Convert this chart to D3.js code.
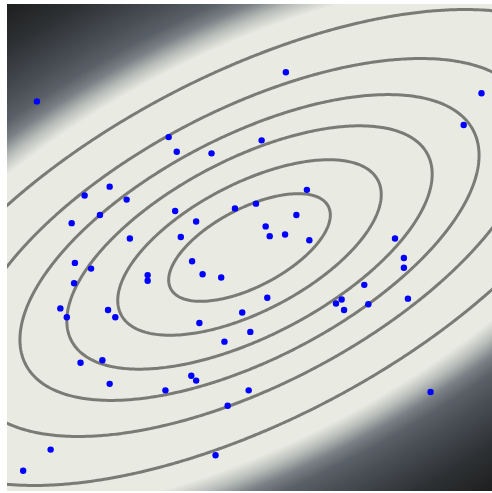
<!DOCTYPE html>
<html lang="en">
<head>
<meta charset="UTF-8">
<title>Gaussian contours</title>
<script src="https://cdn.jsdelivr.net/npm/d3@7"></script>
<style>
  body, html { margin: 0; background: #fff; }
  #chart { position: relative; width: 492px; height: 493px; }
  #chart canvas, #chart svg { position: absolute; left: 0; top: 0; }
</style>
</head>
<body>
<div id="chart"></div>
<script>
// data space of the picture
const xDomain = [-3, 3];
const yDomain = [-3, 3];
// covariance of the fitted gaussian: sxx, sxy, syy
const covariance = [1.0, 0.4, 0.44];
// contour levels, as mahalanobis distance
const contourLevels = [1, 1.63, 2.26, 2.84, 3.51, 4.42];
// background shading by mahalanobis distance
const shadeStops = [4.95, 5.3, 5.65, 6.0, 6.5, 7.5, 8.5];
const shadeColors = ["#e9eae2", "#b9bdba", "#7a8085", "#5a6067", "#494e55", "#2e3134", "#1d1e1e"];
// sample points
const dotX = [-2.63, 0.45, 2.87, 2.65, -1.00, 0.15, -0.90, -0.47, -1.73, -2.04, 0.71, -1.52, -1.85, -2.20,
  -0.92, -0.18, 0.08, 0.58, -0.66, 0.20, 0.25, 0.44, 0.74, -0.85, -1.48, 1.80, 1.91, 1.91, -0.71, -2.16,
  -1.96, -0.58, -0.35, -1.26, -1.26, -2.17, 1.42, 0.22, 1.96, 1.07, 1.14, 1.47, 1.17, -2.34, -2.26, -1.75,
  -1.66, -0.09, -0.62, 0.01, -0.31, -1.82, -2.09, -0.72, -0.66, -1.73, -1.04, -0.01, -0.27, 2.24, -2.46,
  -0.42, -2.80];
const dotY = [1.80, 2.16, 1.90, 1.51, 1.36, 1.32, 1.18, 1.16, 0.75, 0.64, 0.71, 0.59, 0.40, 0.30,
  0.45, 0.48, 0.54, 0.40, 0.32, 0.26, 0.14, 0.16, 0.09, 0.13, 0.11, 0.11, -0.13, -0.25, -0.17, -0.19,
  -0.26, -0.33, -0.37, -0.34, -0.41, -0.44, -0.46, -0.62, -0.63, -0.69, -0.64, -0.70, -0.77, -0.75, -0.86, -0.77,
  -0.86, -0.80, -0.93, -1.04, -1.16, -1.39, -1.42, -1.58, -1.64, -1.68, -1.76, -1.76, -1.95, -1.78, -2.49,
  -2.56, -2.75];

const W = 492, H = 493;
const pLeft = 7, pTop = 4, pRight = 492, pBottom = 491;
const pw = pRight - pLeft, ph = pBottom - pTop;

const x = d3.scaleLinear().domain(xDomain).range([pLeft, pRight]);
const y = d3.scaleLinear().domain(yDomain).range([pBottom, pTop]);

const [sxx, sxy, syy] = covariance;
const det = sxx * syy - sxy * sxy;
function mahal(px, py) {
  const dx = x.invert(px), dy = y.invert(py);
  return Math.sqrt((syy * dx * dx - 2 * sxy * dx * dy + sxx * dy * dy) / det);
}

const shade = d3.scaleLinear().domain(shadeStops).range(shadeColors).clamp(true);

// raster background
const canvas = d3.select("#chart").append("canvas")
  .attr("width", pw).attr("height", ph)
  .style("left", pLeft + "px").style("top", pTop + "px");
const ctx = canvas.node().getContext("2d");
const img = ctx.createImageData(pw, ph);
for (let j = 0; j < ph; j++) {
  for (let i = 0; i < pw; i++) {
    const c = d3.rgb(shade(mahal(pLeft + i + 0.5, pTop + j + 0.5)));
    const k = 4 * (j * pw + i);
    img.data[k] = c.r; img.data[k + 1] = c.g; img.data[k + 2] = c.b; img.data[k + 3] = 255;
  }
}
ctx.putImageData(img, 0, 0);

const svg = d3.select("#chart").append("svg").attr("width", W).attr("height", H);

svg.append("clipPath").attr("id", "plot")
  .append("rect").attr("x", pLeft).attr("y", pTop)
  .attr("width", pw).attr("height", ph);

// contour grid, a bit wider than the plot so edge rings fall outside the clip
const step = 2, pad = 12;
const gx0 = pLeft - pad, gy0 = pTop - pad;
const nx = Math.ceil((pw + 2 * pad) / step);
const ny = Math.ceil((ph + 2 * pad) / step);
const values = new Array(nx * ny);
for (let j = 0; j < ny; j++)
  for (let i = 0; i < nx; i++)
    values[j * nx + i] = -mahal(gx0 + (i + 0.5) * step, gy0 + (j + 0.5) * step);

const contours = d3.contours().size([nx, ny])
  .thresholds(contourLevels.map(d => -d))(values);

const path = d3.geoPath(d3.geoIdentity().scale(step).translate([gx0, gy0]));

svg.append("g").attr("clip-path", "url(#plot)")
  .selectAll("path").data(contours).join("path")
  .attr("d", path)
  .attr("fill", "none")
  .attr("stroke", "#7a7b75")
  .attr("stroke-width", 3)
  .attr("stroke-linejoin", "round");

svg.append("g").attr("clip-path", "url(#plot)")
  .selectAll("circle").data(dotX).join("circle")
  .attr("cx", d => x(d))
  .attr("cy", (d, i) => y(dotY[i]))
  .attr("r", 3.2)
  .attr("fill", "#0000ff");
</script>
</body>
</html>
